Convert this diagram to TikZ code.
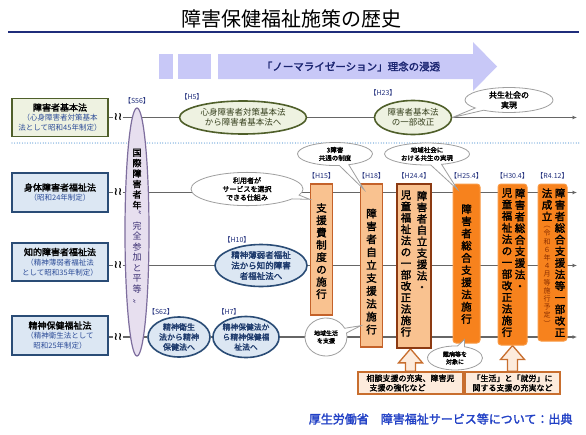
\documentclass[tikz,border=0pt]{standalone}
\usepackage{fontspec}
\setmainfont{Noto Sans CJK JP}[AutoFakeBold=2]
\newfontfamily\breakfont{DejaVu Sans}
\usetikzlibrary{positioning,shapes.geometric,shapes.callouts,calc,backgrounds,arrows.meta}

\definecolor{navy}{HTML}{1F2D7B}
\definecolor{lavarrow}{HTML}{C8C8F7}
\definecolor{arrowtext}{HTML}{1A2470}
\definecolor{grfill}{HTML}{EEF2E1}
\definecolor{grline}{HTML}{4F5F2A}
\definecolor{grtext}{HTML}{36401D}
\definecolor{blfill}{HTML}{DCE7F3}
\definecolor{blline}{HTML}{2A4C76}
\definecolor{bltext}{HTML}{1D3A6C}
\definecolor{subblue}{HTML}{2C4C98}
\definecolor{lavfill}{HTML}{E7DFEF}
\definecolor{lavline}{HTML}{7E6E9E}
\definecolor{lavtext}{HTML}{3A2E72}
\definecolor{peach}{HTML}{F9C290}
\definecolor{peachline}{HTML}{C4622A}
\definecolor{brownline}{HTML}{8C3A12}
\definecolor{orangefill}{HTML}{F7821D}
\definecolor{orangeedge}{HTML}{F99A45}
\definecolor{notefill}{HTML}{FDEBDC}
\definecolor{noteline}{HTML}{C86E2E}
\definecolor{rowgray}{HTML}{666666}
\definecolor{dotblue}{HTML}{5B9BD5}
\definecolor{footblue}{HTML}{2241C6}
\definecolor{dueterm}{HTML}{8A2E00}

% vertical text, one character per line
\newcommand\vtext[2][12pt]{\vbox{\baselineskip=#1\lineskiplimit=-20pt\lineskip=0pt\vtstep#2\relax}}
\def\vtstep#1{\ifx#1\relax\else\hbox to 1em{\hss#1\hss}\expandafter\vtstep\fi}

% hollow arrow from a note up to a box
\newcommand\uparr[2]{\draw[upshape] let \p1=(#1.north), \p2=(#2.south) in
  (\x1-5pt,\y1) -- (\x1-5pt,\y2-14pt) -- (\x1-12pt,\y2-14pt) -- (\x1,\y2)
  -- (\x1+12pt,\y2-14pt) -- (\x1+5pt,\y2-14pt) -- (\x1+5pt,\y1) -- cycle;}

\tikzset{
  lawbox/.style={draw, line width=1.6pt, minimum width=96pt, minimum height=38pt,
    align=center, inner sep=1pt, text=subblue, font=\fontsize{7.5}{10}\selectfont},
  oval/.style={ellipse, draw, line width=1.6pt, inner sep=0pt, align=center},
  yearlbl/.style={text=navy, font=\fontsize{7}{8}\selectfont, inner sep=1pt},
  cutmark/.style={inner sep=0.3pt, font=\breakfont\bfseries\fontsize{11}{11}\selectfont},
  rowline/.style={draw=rowgray, line width=1.1pt},
  bubble/.style={ellipse callout, draw=gray!75, fill=white, line width=0.8pt,
    align=center, inner sep=0pt, font=\fontsize{6.5}{8}\selectfont\bfseries},
  peachbox/.style={draw=peachline, fill=peach, line width=1.3pt, inner sep=0pt},
  orangebox/.style={draw=orangeedge, fill=orangefill, line width=1pt, rounded corners=3pt, inner sep=0pt},
  vtb/.style={inner sep=0pt, font=\fontsize{10.5}{11}\selectfont\bfseries},
  notebox/.style={draw=noteline, fill=notefill, line width=1.3pt, align=left, inner sep=1pt,
    font=\fontsize{8}{9.5}\selectfont\bfseries},
  upshape/.style={draw=noteline, fill=notefill, line width=1.3pt},
}

\begin{document}
\begin{tikzpicture}[x=1pt,y=-1pt]
\useasboundingbox (0,0) rectangle (586,434);

% title
\node[font=\fontsize{20}{20}\selectfont] (title) at (291,19) {障害保健福祉施策の歴史};
\draw[navy, line width=1.6pt] (8,32) -- (579,32);

% normalization arrow
\fill[lavarrow] (159,54) rectangle (173,79);
\fill[lavarrow] (178,54) rectangle (211,79);
\fill[lavarrow] (218,54) -- (473,54) -- (473,42) -- (497,66.5) -- (473,91) -- (473,79) -- (218,79) -- cycle;
\node[text=arrowtext, font=\fontsize{10.5}{11}\selectfont\bfseries] (normal) at (351,66.5) {「ノーマライゼーション」理念の浸透};

\draw[dotblue, line width=1.2pt, line cap=round, dash pattern=on 0pt off 2.6pt] (12,143) -- (580,143);

% laws
\node[lawbox, draw=grline, fill=grfill] (lawbasic) at (60,117.5)
  {{\bfseries\fontsize{9}{10}\selectfont\textcolor{black}{障害者基本法}}\\（心身障害者対策基本\\法として昭和45年制定）};
\node[lawbox, draw=blline, fill=blfill, minimum height=39pt] (lawbody) at (60,192.5)
  {{\bfseries\fontsize{9}{10}\selectfont\textcolor{black}{身体障害者福祉法}}\\（昭和24年制定）};
\node[lawbox, draw=blline, fill=blfill] (lawintel) at (60,262)
  {{\bfseries\fontsize{9}{10}\selectfont\textcolor{black}{知的障害者福祉法}}\\（精神薄弱者福祉法\\として昭和35年制定）};
\node[lawbox, draw=blline, fill=blfill, minimum height=39pt] (lawmental) at (60,335.5)
  {{\bfseries\fontsize{9}{10}\selectfont\textcolor{black}{精神保健福祉法}}\\（精神衛生法として\\昭和25年制定）};

\node[cutmark] (brk1) at (118,117.5) {≀≀};
\node[cutmark] (brk2) at (118,192.5) {≀≀};
\node[cutmark] (brk3) at (118,265.5) {≀≀};
\node[cutmark] (brk4) at (118,337) {≀≀};

% international year
\node[oval, draw=lavline, fill=lavfill, line width=1.2pt, minimum width=24pt, minimum height=248pt] (s56) at (137,232) {};
\node[yearlbl, above=2pt of s56] (s56yr) {【S56】};
\node[inner sep=0pt, font=\fontsize{9}{10}\selectfont\bfseries] (s56top) at (137,179) {\vtext[10.5pt]{国際障害者年}};
\node[inner sep=0pt, text=lavtext, font=\fontsize{9}{10}\selectfont] (s56bot) at (137,257.5) {\vtext[10.5pt]{〝完全参加と平等〟}};

% row 1
\node[oval, draw=grline, fill=grfill, text=grtext, minimum width=127pt, minimum height=33pt,
  font=\fontsize{8.5}{10.5}\selectfont] (h5) at (243,117.5) {心身障害者対策基本法\\から障害者基本法へ};
\node[yearlbl] (h5yr) at (192,97) {【H5】};
\node[oval, draw=grline, fill=grfill, text=grtext, minimum width=77pt, minimum height=34pt,
  font=\fontsize{8.5}{10.5}\selectfont] (h23) at (413,117.5) {障害者基本法\\の一部改正};
\node[yearlbl] (h23yr) at (383,93) {【H23】};
\node[bubble, minimum width=88pt, minimum height=25pt, font=\fontsize{8}{10}\selectfont\bfseries,
  callout absolute pointer=(h23.east)] (kyosei) at (509,100) {共生社会の\\実現};

% row 3 and 4 ovals
\node[oval, draw=blline, fill=blfill, text=bltext, minimum width=92pt, minimum height=42pt,
  font=\fontsize{8.5}{10.5}\selectfont\bfseries] (h10) at (261,265.5) {精神薄弱者福祉\\法から知的障害\\者福祉法へ};
\node[yearlbl] (h10yr) at (237,240) {【H10】};
\node[oval, draw=blline, fill=blfill, text=bltext, minimum width=62pt, minimum height=40pt,
  font=\fontsize{8}{10}\selectfont\bfseries] (s62) at (179,337) {精神衛生\\法から精神\\保健法へ};
\node[yearlbl] (s62yr) at (161,312) {【S62】};
\node[oval, draw=blline, fill=blfill, text=bltext, minimum width=66pt, minimum height=41pt,
  font=\fontsize{7.8}{10}\selectfont\bfseries] (h7) at (246,337) {精神保健法か\\ら精神保健福\\祉法へ};
\node[yearlbl] (h7yr) at (229,312) {【H7】};

% service boxes
\node[peachbox, minimum width=22pt, minimum height=131pt] (h15) at (321.5,249.5) {};
\node[vtb] (h15txt) at (321.5,251) {\vtext[12.3pt]{支援費制度の施行}};
\node[yearlbl, above=3pt of h15] (h15yr) {【H15】};

\node[peachbox, minimum width=22pt, minimum height=163pt] (h18) at (371.5,265.5) {};
\node[vtb] (h18txt) at (371.5,271.5) {\vtext[12.9pt]{障害者自立支援法施行}};
\node[yearlbl, above=3pt of h18] (h18yr) {【H18】};

\node[peachbox, draw=brownline, line width=1.7pt, minimum width=34pt, minimum height=164pt] (h24) at (414,266) {};
\node[vtb] (h24r) at (422,241.1) {\vtext[11.4pt]{障害者自立支援法・}};
\node[vtb] (h24l) at (406,263.5) {\vtext[11.4pt]{児童福祉法の一部改正法施行}};
\node[yearlbl, above=3pt of h24] (h24yr) {【H24.4】};

\node[orangebox, minimum width=27pt, minimum height=159pt] (h25) at (466.5,263.5) {};
\node[vtb] (h25txt) at (466.5,264) {\vtext[12.2pt]{障害者総合支援法施行}};
\node[yearlbl, above=3pt of h25] (h25yr) {【H25.4】};

\node[orangebox, minimum width=29pt, minimum height=161pt] (h30) at (512.5,264.5) {};
\node[vtb] (h30r) at (520,239.4) {\vtext[11.6pt]{障害者総合支援法・}};
\node[vtb] (h30l) at (507,262.6) {\vtext[11.6pt]{児童福祉法の一部改正法施行}};
\node[yearlbl, above=3pt of h30] (h30yr) {【H30.4】};

\node[orangebox, minimum width=29pt, minimum height=157pt] (r4) at (552.5,262.5) {};
\node[vtb] (r4r) at (560,262.6) {\vtext[11.6pt]{障害者総合支援法等一部改正}};
\node[vtb] (r4l) at (547,204.6) {\vtext[11.6pt]{法成立}};
\node[inner sep=0pt, text=dueterm, font=\fontsize{7}{8}\selectfont] (r4due) at (547,276.2) {\vtext[8.2pt]{︵令和６年４月等施行予定︶}};
\node[yearlbl, above=3pt of r4] (r4yr) {【R4.12】};

% callouts
\coordinate (choicetip) at ($(h15.north west)+(0,16)$);
\coordinate (threetip) at ($(h18.north west)+(4,6)$);
\coordinate (regiontip) at ($(h25.north west)+(5,6)$);
\coordinate (raretip) at ($(h25.south)+(-2,-4)$);
\coordinate (lifetip) at ($(h18.south west)+(1,-22)$);
\node[bubble, minimum width=112pt, minimum height=33pt, font=\fontsize{7}{8.5}\selectfont\bfseries,
  callout absolute pointer=(choicetip)] (choice) at (247,189) {利用者が\\サービスを選択\\できる仕組み};
\node[bubble, minimum width=75pt, minimum height=23pt, callout absolute pointer=(threetip)] (three) at (335,154) {3障害\\共通の制度};
\node[bubble, minimum width=85pt, minimum height=22pt, callout absolute pointer=(regiontip)] (region) at (427,154) {地域社会に\\おける共生の実現};
\node[bubble, minimum width=55pt, minimum height=24pt, font=\fontsize{6}{7.5}\selectfont\bfseries,
  callout absolute pointer=(raretip)] (rare) at (455,358) {難病等を\\対象に};
\node[bubble, minimum width=42pt, minimum height=38pt, font=\fontsize{6}{7.5}\selectfont\bfseries,
  callout absolute pointer=(lifetip)] (local) at (326,337) {地域生活\\を支援};

% notes
\node[notebox, minimum width=105pt, minimum height=22pt] (support) at (410.5,383) {相談支援の充実、障害児\\\hspace{3pt}支援の強化など};
\node[notebox, minimum width=95pt, minimum height=22pt] (lifework) at (512.5,383) {「生活」と「就労」に\\関する支援の充実など};

% source
\node[text=footblue, font=\fontsize{12}{12}\selectfont\bfseries, anchor=east] (source) at (576,419) {厚生労働省　障害福祉サービス等について：出典};

\begin{scope}[on background layer]
\fill[white] (0,0) rectangle (586,434);
\coordinate (end1) at (577,117.5);
\coordinate (end2) at (577,192.5);
\coordinate (end3) at (577,265.5);
\coordinate (end4) at (577,337);
\draw[rowline] (lawbasic.east |- brk1) -- (brk1);
\draw[rowline] (lawbody.east |- brk2) -- (brk2);
\draw[rowline] (lawintel.east |- brk3) -- (brk3);
\draw[rowline] (lawmental.east |- brk4) -- (brk4);
\draw[rowline,-{Latex[length=4.5pt,width=4pt]}] (brk1) -- (h5) -- (h23) -- (end1);
\draw[rowline,-{Latex[length=4.5pt,width=4pt]}] (brk2) -- (end2);
\draw[rowline,-{Latex[length=4.5pt,width=4pt]}] (brk3) -- (h10) -- (end3);
\draw[rowline,-{Latex[length=4.5pt,width=4pt]}] (brk4) -- (s62) -- (h7) -- (end4);
\uparr{support}{h24}
\uparr{lifework}{h30}
\end{scope}
\end{tikzpicture}
\end{document}
